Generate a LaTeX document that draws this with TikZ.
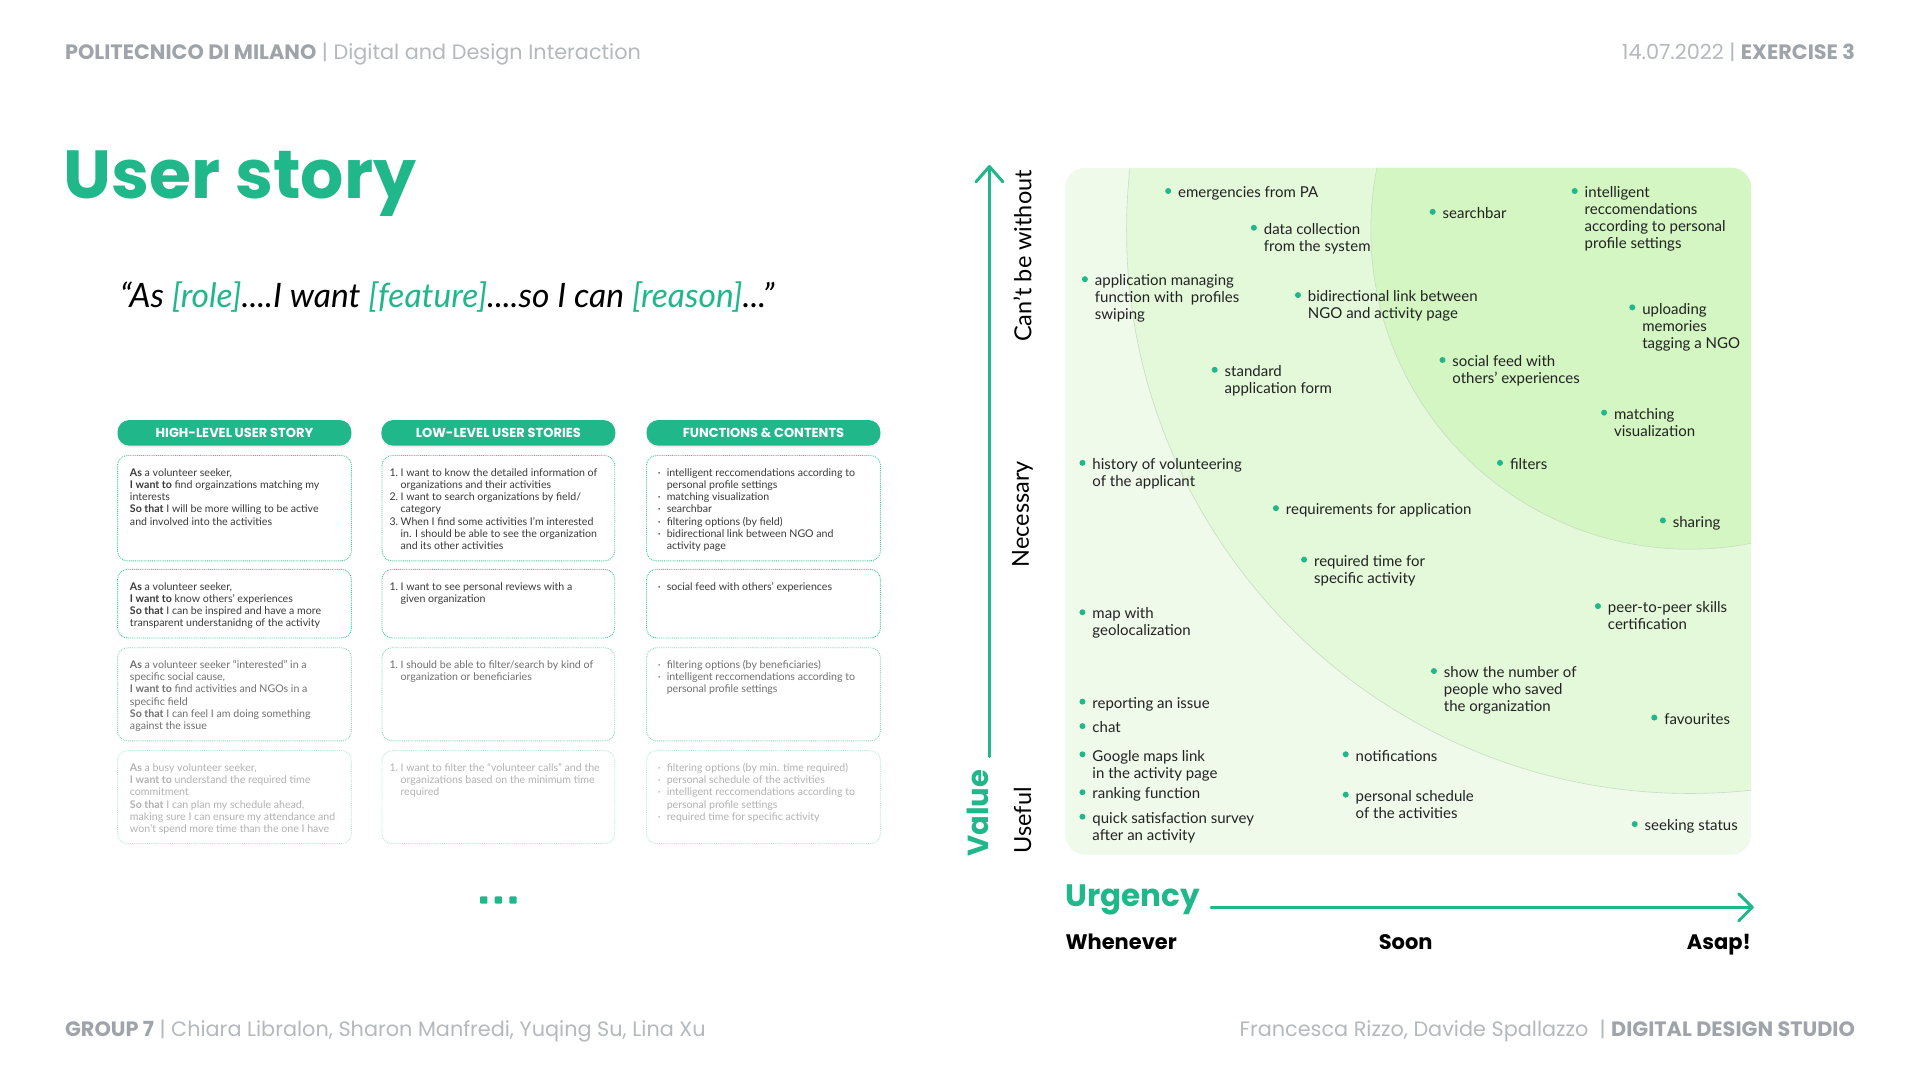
\documentclass[tikz,border=0pt]{standalone}
\usepackage{fontspec}
\setmainfont{Lato}
\newfontfamily\pop{Poppins}
\usetikzlibrary{shadows}

\definecolor{brand}{HTML}{20B78A}
\definecolor{hdgray}{HTML}{9EA4AA}
\definecolor{hdlight}{HTML}{B4B9BE}
\definecolor{ink}{HTML}{222222}
\definecolor{bgout}{HTML}{EFFAEB}
\definecolor{bgmid}{HTML}{E4F8DA}
\definecolor{bgin}{HTML}{D3F6C2}
\definecolor{circline}{HTML}{C9DCC3}
\definecolor{cellA}{HTML}{3A3A3A}
\definecolor{cellB}{HTML}{707070}
\definecolor{cellC}{HTML}{B2B2B2}
\definecolor{bordA}{HTML}{3CC99B}
\definecolor{bordB}{HTML}{80D9B9}
\definecolor{bordC}{HTML}{B5EAD5}

% multi-line block whose baseline is the first line
\newcommand\ml[2]{\vtop{\baselineskip=#1\lineskiplimit=-20pt\lineskip=0pt\halign{##\hfil\cr#2\crcr}}}
\newcommand\numlab[1]{\makebox[11pt][l]{#1}}
\newcommand\numind{\hspace*{11pt}}
\newcommand\bulab{\makebox[9pt][l]{·}}
\newcommand\bulind{\hspace*{9pt}}

\begin{document}
\begin{tikzpicture}[x=1.22449pt,y=-1.22449pt,
  pill/.style={fill=brand, rounded corners=12pt, inner sep=0pt,
    minimum width=233.9pt, minimum height=25.7pt, text=white,
    font=\pop\bfseries\fontsize{13}{15}\selectfont,
    drop shadow={opacity=0.13, shadow xshift=0pt, shadow yshift=-2pt}},
  cellbox/.style={densely dotted, line width=0.9pt, rounded corners=10pt},
  celltext/.style={anchor=base west, inner sep=0pt, font=\fontsize{10.6}{12.2}\selectfont},
  axis/.style={draw=brand, line width=3pt, line cap=round, line join=round},
  dot/.style={circle, fill=brand, inner sep=0pt, minimum size=6pt},
  itemtext/.style={anchor=base west, inner sep=0pt, text=ink, font=\fontsize{15}{17}\selectfont},
  sidelab/.style={rotate=90, inner sep=0pt, text=black, font=\fontsize{23.5}{26}\selectfont},
  urglab/.style={inner sep=0pt, text=black, font=\pop\bfseries\fontsize{21}{24}\selectfont},
  hdr/.style={inner sep=0pt, font=\pop\fontsize{20.8}{23}\selectfont}]

\useasboundingbox (0,0) rectangle (1568,882);
\fill[white] (0,0) rectangle (1568,882);

% header and footer
\node[hdr, anchor=base west] (hdleft) at (53,48.5)
  {\textbf{\color{hdgray}POLITECNICO DI MILANO}\color{hdlight}\ | Digital and Design Interaction};
\node[hdr, anchor=base east] (hdright) at (1515,48.5)
  {\color{hdlight}14.07.2022 |\ \textbf{\color{hdgray}EXERCISE 3}};
\node[hdr, anchor=base west] (ftleft) at (53,846.5)
  {\textbf{\color{hdgray}GROUP 7}\color{hdlight}\ | Chiara Libralon, Sharon Manfredi, Yuqing Su, Lina Xu};
\node[hdr, anchor=base east] (ftright) at (1515,846.5)
  {\color{hdlight}Francesca Rizzo, Davide Spallazzo\ \ |\ \textbf{\color{hdgray}DIGITAL DESIGN STUDIO}};

% title and template sentence
\node[anchor=base west, inner sep=0pt, text=brand, font=\pop\bfseries\fontsize{68}{76}\selectfont]
  (title) at (52,162) {User story};
\node[anchor=base west, inner sep=0pt, font=\itshape\fontsize{33.6}{38}\selectfont] (quote) at (98,251)
  {“As \textcolor{brand}{[role]}....I want \textcolor{brand}{[feature]}....so I can \textcolor{brand}{[reason]}...”};

% column headers
\node[pill] (head1) at (191.5,353.5) {HIGH-LEVEL USER STORY};
\node[pill] (head2) at (407,353.5) {LOW-LEVEL USER STORIES};
\node[pill] (head3) at (623.5,353.5) {FUNCTIONS \& CONTENTS};

% cell frames
\draw[cellbox, draw=bordA] (96,372) rectangle (287,458);
\draw[cellbox, draw=bordA] (312,372) rectangle (502,458);
\draw[cellbox, draw=bordA] (528,372) rectangle (719,458);
\draw[cellbox, draw=bordA] (96,465) rectangle (287,521);
\draw[cellbox, draw=bordA] (312,465) rectangle (502,521);
\draw[cellbox, draw=bordA] (528,465) rectangle (719,521);
\draw[cellbox, draw=bordB] (96,529) rectangle (287,605);
\draw[cellbox, draw=bordB] (312,529) rectangle (502,605);
\draw[cellbox, draw=bordB] (528,529) rectangle (719,605);
\draw[cellbox, draw=bordC] (96,613) rectangle (287,689);
\draw[cellbox, draw=bordC] (312,613) rectangle (502,689);
\draw[cellbox, draw=bordC] (528,613) rectangle (719,689);

% row 1
\node[celltext, text=cellA] (r1a) at (106,389) {\ml{12.2pt}{%
  \textbf{As} a volunteer seeker,\cr
  \textbf{I want to} find orgainzations matching my\cr
  interests\cr
  \textbf{So that} I will be more willing to be active\cr
  and involved into the activities}};
\node[celltext, text=cellA] (r1b) at (318,389) {\ml{12.2pt}{%
  \numlab{1.}I want to know the detailed information of\cr
  \numind organizations and their activities\cr
  \numlab{2.}I want to search organizations by field/\cr
  \numind category\cr
  \numlab{3.}When I find some activities I'm interested\cr
  \numind in. I should be able to see the organization\cr
  \numind and its other activities}};
\node[celltext, text=cellA] (r1c) at (537,389) {\ml{12.2pt}{%
  \bulab intelligent reccomendations according to\cr
  \bulind personal profile settings\cr
  \bulab matching visualization\cr
  \bulab searchbar\cr
  \bulab filtering options (by field)\cr
  \bulab bidirectional link between NGO and\cr
  \bulind activity page}};

% row 2
\node[celltext, text=cellA] (r2a) at (106,482) {\ml{12.2pt}{%
  \textbf{As} a volunteer seeker,\cr
  \textbf{I want to} know others’ experiences\cr
  \textbf{So that} I can be inspired and have a more\cr
  transparent understanidng of the activity}};
\node[celltext, text=cellA] (r2b) at (318,482) {\ml{12.2pt}{%
  \numlab{1.}I want to see personal reviews with a\cr
  \numind given organization}};
\node[celltext, text=cellA] (r2c) at (537,482) {\ml{12.2pt}{%
  \bulab social feed with others’ experiences}};

% row 3
\node[celltext, text=cellB] (r3a) at (106,546) {\ml{12.2pt}{%
  \textbf{As} a volunteer seeker “interested” in a\cr
  specific social cause,\cr
  \textbf{I want to} find activities and NGOs in a\cr
  specific field\cr
  \textbf{So that} I can feel I am doing something\cr
  against the issue}};
\node[celltext, text=cellB] (r3b) at (318,546) {\ml{12.2pt}{%
  \numlab{1.}I should be able to filter/search by kind of\cr
  \numind organization or beneficiaries}};
\node[celltext, text=cellB] (r3c) at (537,546) {\ml{12.2pt}{%
  \bulab filtering options (by beneficiaries)\cr
  \bulab intelligent reccomendations according to\cr
  \bulind personal profile settings}};

% row 4
\node[celltext, text=cellC] (r4a) at (106,630) {\ml{12.2pt}{%
  \textbf{As} a busy volunteer seeker,\cr
  \textbf{I want to} understand the required time\cr
  commitment\cr
  \textbf{So that} I can plan my schedule ahead,\cr
  making sure I can ensure my attendance and\cr
  won’t spend more time than the one I have}};
\node[celltext, text=cellC] (r4b) at (318,630) {\ml{12.2pt}{%
  \numlab{1.}I want to filter the “volunteer calls” and the\cr
  \numind organizations based on the minimum time\cr
  \numind required}};
\node[celltext, text=cellC] (r4c) at (537,630) {\ml{12.2pt}{%
  \bulab filtering options (by min. time required)\cr
  \bulab personal schedule of the activities\cr
  \bulab intelligent reccomendations according to\cr
  \bulind personal profile settings\cr
  \bulab required time for specific activity}};

% continuation mark
\fill[brand, rounded corners=1pt] (392,732) rectangle (398,738);
\fill[brand, rounded corners=1pt] (404,732) rectangle (410,738);
\fill[brand, rounded corners=1pt] (416,732) rectangle (422,738);

% priority field: three zones around the top-right corner
\begin{scope}
  \clip[rounded corners=20pt] (870,137) rectangle (1430,698);
  \fill[bgout] (870,137) rectangle (1430,698);
  \fill[bgmid] (1380,188) circle (460);
  \fill[bgin] (1380,188) circle (260.5);
  \draw[circline, line width=0.6pt] (1380,188) circle (460);
  \draw[circline, line width=0.6pt] (1380,188) circle (260.5);
\end{scope}

% value axis
\coordinate (vbot) at (808,618);
\coordinate (vtop) at (808,136);
\draw[axis] (vbot) -- (vtop);
\draw[axis] (797,148.5) -- (vtop) -- (819,148.5);
\node[rotate=90, inner sep=0pt, text=brand, font=\pop\bfseries\fontsize{29}{32}\selectfont]
  (value) at (799,664) {Value};
\node[sidelab] (lab1) at (835,209) {Can’t be without};
\node[sidelab] (lab2) at (835,420) {Necessary};
\node[sidelab] (lab3) at (835,670) {Useful};

% urgency axis
\coordinate (hleft) at (989,741);
\coordinate (hright) at (1431,741);
\draw[axis] (hleft) -- (hright);
\draw[axis] (1420,730) -- (hright) -- (1420,752);
\node[anchor=base west, inner sep=0pt, text=brand, font=\pop\bfseries\fontsize{31}{34}\selectfont]
  (urgency) at (870,740) {Urgency};
\node[urglab, anchor=base west] (u1) at (870,775.5) {Whenever};
\node[urglab, anchor=base] (u2) at (1148,775.5) {Soon};
\node[urglab, anchor=base east] (u3) at (1430,775.5) {Asap!};

% features
\foreach \n/\px/\py/\txt in {
  1/954/156/{emergencies from PA},
  2/1024/186/{data collection\cr from the system},
  3/886/228/{application managing\cr function with~ profiles\cr swiping},
  4/1060/241/{bidirectional link between\cr NGO and activity page},
  5/992/302/{standard\cr application form},
  6/1170/173/{searchbar},
  7/1286/156/{intelligent\cr reccomendations\cr according to personal\cr profile settings},
  8/1333/251/{uploading\cr memories\cr tagging a NGO},
  9/1178/294/{social feed with\cr others’ experiences},
  10/1310/337/{matching\cr visualization},
  11/884/378/{history of volunteering\cr of the applicant},
  12/1225/378/{filters},
  13/1042/415/{requirements for application},
  14/1358/425/{sharing},
  15/1065/457/{required time for\cr specific activity},
  16/884/500/{map with\cr geolocalization},
  17/1305/495/{peer-to-peer skills\cr certification},
  18/1171/548/{show the number of\cr people who saved\cr the organization},
  19/884/573/{reporting an issue},
  20/884/593/{chat},
  21/1351/586/{favourites},
  22/884/616/{Google maps link\cr in the activity page},
  23/1099/616/{notifications},
  24/884/647/{ranking function},
  25/1099/649/{personal schedule\cr of the activities},
  26/884/667/{quick satisfaction survey\cr after an activity},
  27/1335/673/{seeking status}} {
  \node[dot] (dot\n) at (\px,\py) {};
  \node[itemtext] (item\n) at (\px+8,\py+5.5) {\ml{17pt}{\txt}};
}
\end{tikzpicture}
\end{document}
